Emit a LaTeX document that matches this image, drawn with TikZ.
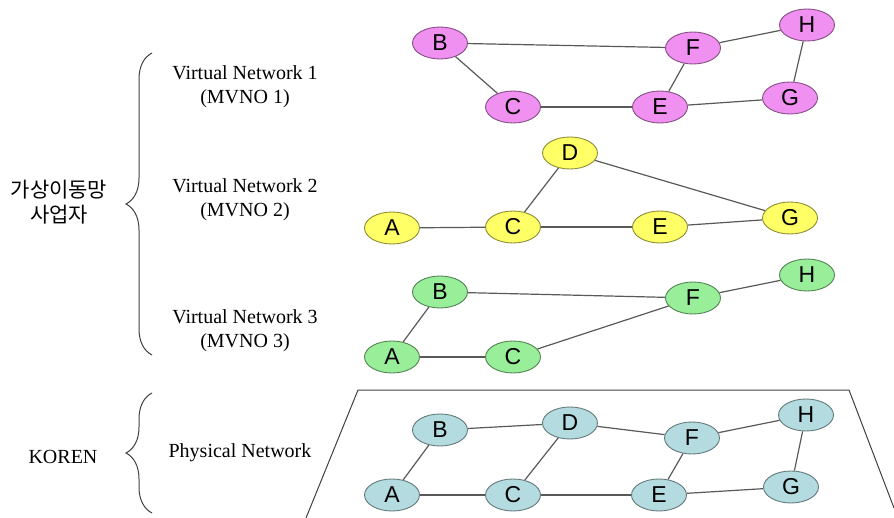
\documentclass[tikz,border=0pt]{standalone}
\usepackage{fontspec}
\setmainfont{Liberation Serif}
\newfontfamily\nodefont{Liberation Sans}
\newfontfamily\krfont{Noto Sans CJK KR}
\usetikzlibrary{shapes.geometric,decorations.pathreplacing}

\definecolor{vnpink}{HTML}{F090F0}
\definecolor{vnyellow}{HTML}{FFFF66}
\definecolor{vngreen}{HTML}{99EE99}
\definecolor{phcyan}{HTML}{B4DCE0}

\tikzset{
    vnode/.style={ellipse, draw=#1!55!black, fill=#1, line width=0.9pt,
        minimum width=55pt, minimum height=32pt, inner sep=0pt,
        font=\nodefont\fontsize{23}{23}\selectfont},
    link/.style={draw=black!65, line width=1.2pt},
    netlabel/.style={align=center, font=\fontsize{20}{24}\selectfont},
    curly/.style={decorate, decoration={brace, amplitude=26pt}, line width=1pt, draw=black!75}
}

\begin{document}
\begin{tikzpicture}[x=1pt, y=-1pt]
    \useasboundingbox (0,0) rectangle (894,518);

    % left side labels and braces
    \node[netlabel, font=\krfont\fontsize{21}{25}\selectfont] (mvno) at (59,202) {가상이동망\\사업자};
    \node[netlabel] (koren) at (63,457) {KOREN};
    \draw[curly] (152,355) -- (152,53);
    \draw[curly] (152,513) -- (152,393);
    \node[netlabel] (vn1) at (245,87) {Virtual Network 1\\(MVNO 1)};
    \node[netlabel] (vn2) at (245,200) {Virtual Network 2\\(MVNO 2)};
    \node[netlabel] (vn3) at (245,331) {Virtual Network 3\\(MVNO 3)};
    \node[netlabel] (phys) at (240,453) {Physical Network};

    % physical plane
    \draw[line width=1pt, draw=black!75] (306,518) -- (358,390) -- (849,390) -- (894,508);

    % virtual network 1
    \foreach \n/\x/\y in {B/440/43, F/693/48, H/807/25, C/513/107, E/660/107, G/790/98}
        \node[vnode=vnpink] (p\n) at (\x,\y) {\n};
    \foreach \a/\b in {B/F, B/C, C/E, E/F, F/H, H/G, E/G}
        \draw[link] (p\a) -- (p\b);

    % virtual network 2
    \foreach \n/\x/\y in {D/570/153, A/392/228, C/513/227, E/660/227, G/790/218}
        \node[vnode=vnyellow] (y\n) at (\x,\y) {\n};
    \foreach \a/\b in {A/C, C/D, C/E, D/G, E/G}
        \draw[link] (y\a) -- (y\b);

    % virtual network 3
    \foreach \n/\x/\y in {B/440/292, F/693/298, H/807/275, A/392/357, C/513/357}
        \node[vnode=vngreen] (g\n) at (\x,\y) {\n};
    \foreach \a/\b in {A/B, A/C, B/F, C/F, F/H}
        \draw[link] (g\a) -- (g\b);

    % physical network
    \foreach \n/\x/\y in {B/440/430, D/570/423, F/692/438, H/806/415, A/392/495, C/513/495, E/659/495, G/791/487}
        \node[vnode=phcyan] (c\n) at (\x,\y) {\n};
    \foreach \a/\b in {A/B, A/C, B/D, C/D, C/E, D/F, E/F, F/H, H/G, E/G}
        \draw[link] (c\a) -- (c\b);
\end{tikzpicture}
\end{document}
